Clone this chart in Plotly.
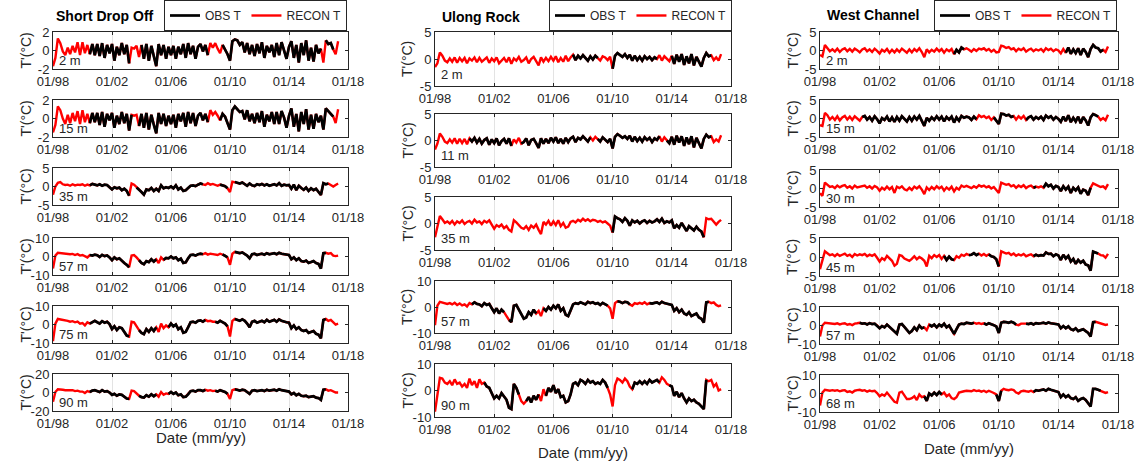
import pandas as pd
import plotly.graph_objects as go

# ---------------- data (bi-monthly samples, Jan 1998 .. May 2017) ----------------
DATES = pd.date_range("1998-01-01", periods=117, freq="2MS")
YEARS = [1998 + k / 6 for k in range(117)]

XTICK_VALS = ["1998-01-01", "2002-01-01", "2006-01-01", "2010-01-01", "2014-01-01", "2018-01-01"]
XTICK_LABELS = ["01/98", "01/02", "01/06", "01/10", "01/14", "01/18"]

# ---- Short Drop Off ----
SDO_2M = [-1.7, -0.8, 1.3, 0.8, -0.1, -0.5,
          0.3, -0.4, 0.5, -0.2, 0.9, -0.5,
          0.9, -0.3, 0.6, -0.4, 0.7, -0.5,
          0.7, -0.6, 0.8, -0.8, 0.6, -0.3,
          0.7, -1.1, 0.4, -0.5, 0.8, -0.4,
          0.6, -1.4, 0.3, 0.2, 0.5, -0.7,
          0.6, -0.9, 0.7, -1.1, 0.5, -0.6,
          -1.7, 0.7, -0.5, 0.6, -0.9, 0.4,
          -0.5, 0.5, -0.9, 0.4, -0.4, 0.7,
          -0.8, 0.8, -0.4, 0.5, -0.9, 0.4,
          0.7, -0.1, 0.6, -0.5, 0.8, 0.3,
          0.8, 0.2, -0.3, 0.6, 0.1, -0.4,
          -1.1, 1.0, 1.2, 1.1, 0.6, 0.9,
          -0.2, 0.8, -0.4, 0.6, -0.6, 0.7,
          -0.3, 0.9, -0.8, 0.5, -0.2, 0.6,
          -0.7, 0.8, -0.5, 0.9, 0.0, -0.9,
          0.4, 1.0, -0.8, 0.6, -1.3, 0.8,
          -0.5, 1.1, -1.1, 0.3, -1.2, 0.6,
          -0.3, 0.2, -1.3, 1.1, 0.7, 0.8,
          0.1, -0.4, 1.0]
SDO_2M_OBS = [(2000.4, 2003.3), (2003.9, 2008.5), (2009.5, 2016.2), (2016.5, 2017.0)]

SDO_15M = [-1.5, -0.7, 1.3, 0.9, 0.0, -0.6,
           0.4, -0.5, 0.6, -0.3, 0.8, -0.6,
           0.9, -0.4, 0.5, -0.5, 0.6, -0.4,
           0.6, -0.7, 0.7, -0.9, 0.5, -0.2,
           0.6, -1.0, 0.3, -0.6, 0.7, -0.5,
           0.5, -1.3, 0.4, 0.3, 0.4, -0.8,
           0.5, -1.0, 0.6, -1.2, 0.4, -0.7,
           -1.6, 0.6, -0.6, 0.5, -0.8, 0.3,
           -0.6, 0.4, -1.0, 0.5, -0.3, 0.6,
           -0.9, 0.7, -0.5, 0.6, -0.8, 0.3,
           0.6, -0.2, 0.5, -0.4, 0.9, 0.4,
           0.7, 0.3, -0.2, 0.5, 0.2, -0.5,
           -1.2, 0.9, 1.3, 1.0, 0.7, 0.8,
           -0.1, 0.9, -0.3, 0.5, -0.5, 0.6,
           -0.4, 0.8, -0.9, 0.4, -0.3, 0.7,
           -0.6, 0.7, -0.6, 0.8, 0.1, -1.0,
           0.3, 1.1, -0.9, 0.5, -1.4, 0.7,
           -0.6, 1.0, -1.2, 0.4, -1.1, 0.5,
           -0.4, 0.3, -1.2, 1.1, 0.8, 0.6,
           0.2, -0.5, 1.0]
SDO_15M_OBS = [(2000.4, 2003.4), (2003.8, 2008.6), (2009.2, 2016.4), (2016.5, 2017.0)]

SDO_35M = [-2.2, 0.0, 1.0, 1.2, 0.6, 0.4,
           0.5, 0.2, 0.6, 0.3, 0.5, 0.4,
           0.6, 0.2, 0.5, 0.3, 0.7, 0.5,
           0.3, 0.6, 0.2, 0.5, 0.4, -0.2,
           -0.8, -0.2, -0.5, -0.3, -1.0, -0.6,
           -1.2, -2.5, 0.8, 0.5, -0.3, -0.8,
           -1.5, -2.2, -0.8, -1.0, -0.4, -1.2,
           -0.6, -1.2, 0.3, -0.5, -0.2, -0.4,
           0.0, -0.5, 0.3, -0.8, -0.3, -1.2,
           -1.0, -0.4, 0.2, 0.3, 0.1, 0.5,
           0.8, 0.6, 0.4, 0.9, 0.5, 0.7,
           0.4, 0.2, 0.5, 0.3, 0.1, -0.5,
           -1.5, 1.3, 1.2, 1.0, 0.8, 1.1,
           0.6, 0.2, 0.8, 0.3, 0.1, 0.6,
           0.4, 0.7, 0.3, 0.6, 0.2, 0.5,
           0.6, 0.3, 0.9, 0.2, 0.5, 0.3,
           0.4, -0.6, 0.5, -1.0, 0.2, -0.4,
           -0.9, -0.3, -1.2, -0.5, -1.0, -0.6,
           -1.4, -2.3, 0.9, 0.6, 0.8, 0.3,
           0.0, 0.4, 0.8]
SDO_35M_OBS = [(2000.4, 2003.3), (2003.6, 2008.3), (2009.2, 2009.9), (2010.2, 2016.8)]

SDO_57M = [-6.5, 0.5, 2.0, 1.8, 1.7, 1.5,
           1.6, 1.2, 1.4, 0.8, 1.3, 0.5,
           0.8, 0.3, -0.5, 0.8, 0.5, 1.0,
           0.7, -0.3, 0.9, 0.2, 0.6, -0.5,
           -2.0, -0.5, -1.5, -1.0, -2.5, -3.5,
           -4.5, -5.8, 0.5, 0.8, -0.5, -2.0,
           -3.5, -4.2, -2.5, -3.0, -1.5, -2.8,
           -1.5, -3.5, -0.5, -1.8, -0.8, -1.0,
           0.0, -1.0, -0.5, -2.0, -1.2, -3.5,
           -3.2, -1.0, 0.8, 1.0, 0.5, 1.2,
           1.5, 1.2, 1.8, 1.0, 1.5, 1.3,
           1.0, 0.8, 1.5, 1.2, 0.5, -0.5,
           -4.5, 1.5, 2.5, 2.0, 1.8, 2.2,
           1.5, 0.5, -1.0, 1.2, 1.5, 0.8,
           1.2, 1.5, 1.0, 1.8, 1.2, 1.5,
           1.8, 1.2, 2.0, 1.5, 1.3, 1.0,
           0.8, -1.5, -0.5, -2.0, -1.0, -2.5,
           -2.8, -2.2, -3.5, -3.0, -2.5, -3.5,
           -4.0, -6.5, 1.8, 2.0, 1.5, 1.8,
           0.5, 0.2, 0.5]
SDO_57M_OBS = [(2000.4, 2003.3), (2003.7, 2005.0), (2005.5, 2008.3), (2009.5, 2009.9), (2010.3, 2016.5)]

SDO_75M = [-9.0, 0.5, 3.0, 2.8, 2.5, 2.2,
           2.0, 1.5, 1.8, 1.2, 1.6, 0.5,
           0.8, -0.5, 1.2, 0.5, 1.5, 2.0,
           1.2, 0.5, 1.8, 1.0, 1.5, 0.2,
           -2.5, -1.0, -3.0, -1.5, -2.0, -4.0,
           -6.0, -6.5, 1.5, 1.2, -1.0, -3.0,
           -4.5, -5.2, -2.5, -4.0, -2.0, -3.5,
           -1.5, -4.0, 0.5, -2.0, -0.5, -1.5,
           0.5, -1.0, 0.0, -2.5, -1.5, -4.5,
           -4.0, -1.5, 1.2, 1.5, 1.0, 2.0,
           2.2, 1.5, 2.5, 1.8, 2.0, 1.5,
           1.5, 1.0, 2.0, 1.2, 0.5, -1.0,
           -6.5, 2.0, 3.0, 2.5, 2.0, 2.8,
           2.0, 0.5, -1.5, 1.5, 2.0, 1.0,
           1.5, 2.0, 1.2, 2.5, 1.5, 2.0,
           2.5, 1.5, 2.8, 2.0, 1.5, 1.2,
           1.0, -2.0, -0.5, -2.5, -1.5, -3.0,
           -3.5, -3.0, -4.5, -4.0, -3.5, -5.0,
           -5.5, -7.5, 2.5, 3.0, 2.0, 2.5,
           1.0, 0.0, 0.5]
SDO_75M_OBS = [(2000.5, 2003.3), (2003.7, 2005.1), (2005.7, 2008.4), (2009.0, 2009.9), (2010.2, 2016.5)]

SDO_90M = [-10.0, 0.5, 3.5, 3.5, 3.0, 2.5,
           2.5, 2.0, 2.5, 1.5, 2.0, 1.0,
           1.0, -0.5, 1.5, 0.5, 2.0, 2.5,
           1.5, 0.5, 2.5, 1.0, 1.5, 0.0,
           -2.5, -1.5, -3.5, -2.0, -2.5, -4.5,
           -6.5, -7.0, 2.0, 1.5, -1.5, -3.5,
           -5.0, -5.5, -3.0, -4.5, -2.0, -4.0,
           -2.0, -4.5, 0.5, -2.5, -1.0, -1.5,
           0.5, -1.5, 0.0, -3.0, -2.0, -5.0,
           -4.5, -2.0, 1.5, 2.0, 1.0, 2.5,
           2.5, 1.5, 3.0, 2.0, 2.5, 1.5,
           2.0, 1.0, 2.5, 1.5, 0.5, -1.5,
           -7.0, 2.5, 3.5, 3.0, 2.0, 3.0,
           2.5, 0.5, -1.5, 2.0, 2.5, 1.5,
           2.0, 2.5, 1.5, 3.0, 2.0, 2.5,
           3.0, 2.0, 3.5, 2.5, 2.0, 1.5,
           1.0, -2.0, -0.5, -3.0, -1.5, -3.5,
           -4.0, -3.5, -5.0, -4.5, -4.0, -5.5,
           -6.0, -8.0, 3.0, 3.5, 2.0, 2.5,
           1.0, 0.0, 0.0]
SDO_90M_OBS = [(2000.5, 2003.3), (2003.7, 2005.1), (2005.7, 2008.4), (2009.0, 2009.9), (2010.2, 2016.5)]

# ---- Ulong Rock ----
UR_2M = [-1.5, -0.8, 1.2, 0.6, -0.3, -0.6,
         0.1, -0.5, 0.3, -0.7, 0.2, -0.4,
         0.2, -0.8, 0.1, -0.3, 0.3, -0.6,
         0.2, -0.5, -0.1, 0.3, -0.7, 0.1,
         -0.4, 0.3, -0.8, -0.2, 0.2, -0.6,
         0.3, -0.9, 0.1, -0.3, 0.4, -0.5,
         -0.2, 0.3, -0.8, 0.0, 0.4, -0.4,
         -1.2, 0.3, -0.5, 0.2, -0.4, 0.4,
         -0.3, 0.5, -0.6, 0.2, -0.5, 0.6,
         -0.4, 0.3, 0.8, -0.2, 0.6, 0.1,
         0.7, 0.2, -0.3, 0.5, -0.1, 0.6,
         0.2, -0.3, 0.5, 0.3, -0.2, 0.4,
         -1.8, 0.6, 1.1, 0.8, 0.4, 0.9,
         0.2, 0.8, -0.3, 0.6, -0.2, 0.4,
         -0.3, 0.5, 0.0, 0.4, -0.2, 0.3,
         0.0, 0.7, -0.3, 0.5, 0.1, -0.4,
         0.6, -0.9, 0.8, -0.5, 0.9, -1.1,
         0.5, -0.8, 0.9, -1.2, 0.4, -0.6,
         -1.4, 0.2, 1.1, 0.5, 0.7, -0.2,
         0.3, -0.3, 0.9]
UR_2M_OBS = [(2007.3, 2009.0), (2009.9, 2013.0), (2013.9, 2016.8)]

UR_11M = [-1.7, -0.6, 1.3, 0.7, -0.2, -0.5,
          0.2, -0.4, 0.4, -0.6, 0.3, -0.5,
          0.3, -0.7, 0.4, -0.2, 0.5, -0.4,
          0.3, -0.6, 0.1, 0.4, -0.8, 0.2,
          -0.5, 0.4, -0.9, -0.1, 0.3, -0.6,
          0.4, -1.0, 0.2, -0.4, 0.5, -0.6,
          -0.3, 0.4, -0.9, 0.1, 0.3, -0.5,
          -1.4, 0.4, -0.6, 0.3, -0.5, 0.5,
          -0.2, 0.6, -0.5, 0.3, -0.6, 0.5,
          -0.3, 0.4, 0.7, -0.3, 0.5, 0.2,
          0.8, 0.3, -0.2, 0.6, 0.0, 0.7,
          0.3, -0.2, 0.6, 0.2, -0.3, 0.3,
          -1.5, 0.7, 1.2, 0.9, 0.5, 0.8,
          0.3, 0.9, -0.2, 0.7, -0.1, 0.5,
          -0.2, 0.6, 0.1, 0.5, -0.3, 0.4,
          0.1, 0.8, -0.2, 0.6, 0.0, -0.5,
          0.7, -0.8, 0.9, -0.4, 0.8, -1.0,
          0.6, -0.7, 0.8, -1.3, 0.5, -0.5,
          -1.5, 0.3, 1.1, 0.6, 0.8, -0.3,
          0.2, -0.2, 1.0]
UR_11M_OBS = [(2000.2, 2003.3), (2003.7, 2008.5), (2009.0, 2013.2), (2013.6, 2016.8)]

UR_35M = [-2.6, -0.5, 1.4, 0.8, 0.1, 0.4,
          0.0, 0.5, -0.2, 0.4, 0.1, 0.6,
          -0.1, 0.3, 0.5, 0.0, 0.7, 0.2,
          0.4, -0.1, 0.5, 0.2, 0.6, -0.2,
          -1.0, -0.3, -0.6, -0.2, -0.9, -0.5,
          -1.2, -1.5, 0.6, 0.2, -0.3, -0.8,
          -1.0, -0.5, -1.2, -0.4, -0.8, -0.2,
          -1.2, -2.0, 0.3, -0.2, 0.5, -0.4,
          0.4, -0.3, 0.6, -0.5, 0.1, -0.8,
          -0.6, 0.3, 0.5, 0.2, 0.7, 0.4,
          0.9, 0.5, 0.8, 0.4, 0.7, 0.6,
          0.3, 0.5, 0.2, 0.4, 0.0, -0.4,
          -1.7, 1.3, 1.0, 0.8, 0.3, 1.0,
          0.5, -0.4, 0.6, 0.2, 0.5, 0.0,
          0.4, 0.6, 0.1, 0.5, 0.2, 0.4,
          0.8, 0.3, 0.9, 0.1, 0.4, 0.2,
          0.6, -0.9, -0.3, -0.8, 0.1, -0.6,
          -1.4, -0.5, -1.0, -1.3, -0.6, -1.2,
          -1.5, -2.6, 1.0, 0.8, 0.9, 0.4,
          -0.2, 0.3, 0.7]
UR_35M_OBS = [(2010.0, 2016.3)]

UR_57M = [-7.0, 0.5, 2.0, 1.8, 1.5, 1.2,
          1.5, 1.0, 1.6, 0.8, 1.4, 0.6,
          1.0, 0.2, 1.5, 1.0, 1.8, 1.2,
          1.0, 0.3, 1.5, 0.8, 1.2, -0.5,
          -2.0, -0.5, -2.5, -1.0, -2.0, -3.5,
          -5.0, -5.8, 0.5, 0.8, -1.0, -3.0,
          -4.5, -4.0, -2.0, -3.0, -1.0, -2.5,
          -1.5, -3.5, -0.5, -1.5, 0.0, -1.0,
          0.5, -0.5, 1.0, -1.5, -0.5, -3.0,
          -3.5, -1.5, 1.0, 1.5, 1.2, 1.8,
          1.5, 1.0, 2.0, 1.5, 1.8, 1.2,
          1.5, 0.8, 1.6, 1.0, 0.5, -0.5,
          -4.5, 1.5, 2.2, 2.0, 1.5, 2.0,
          1.8, 1.0, 0.5, 1.5, 1.2, 1.6,
          1.2, 1.8, 1.0, 1.5, 1.3, 1.6,
          1.8, 1.2, 2.0, 1.5, 1.2, 1.0,
          0.8, -1.5, -0.5, -2.0, -1.0, -2.5,
          -3.0, -2.0, -3.5, -3.0, -2.5, -4.0,
          -4.5, -6.0, 1.8, 2.0, 1.5, 1.8,
          0.8, 0.3, 0.6]
UR_57M_OBS = [(2000.4, 2002.8), (2003.0, 2004.9), (2005.3, 2009.8), (2010.2, 2011.3), (2012.5, 2016.6)]

UR_90M = [-8.0, -1.0, 4.8, 4.5, 3.0, 2.5,
          3.5, 2.0, 4.2, 2.5, 3.0, 1.5,
          2.5, 1.0, 4.5, 2.0, 3.5, 1.0,
          4.2, 2.5, 3.0, 1.5, 1.0, -1.0,
          -3.0, -2.0, -3.0, -1.0, -2.5, -3.5,
          -6.5, -7.0, 2.5, 1.0, -1.5, -4.0,
          -5.0, -4.0, -2.5, -4.5, -2.0, -3.5,
          -1.5, -4.0, 0.5, -2.0, 1.0, -0.5,
          2.0, -1.0, 0.5, -2.5, -2.0, -4.5,
          -4.0, -1.5, 2.5, 3.0, 2.0, 4.0,
          3.5, 2.5, 4.0, 3.0, 3.5, 2.5,
          3.0, 2.5, 4.0, 3.0, 1.0, -1.5,
          -6.0, 2.0, 4.5, 4.0, 3.0, 4.5,
          3.5, 1.5, 0.5, 3.0, 2.5, 3.5,
          2.5, 3.5, 2.5, 4.0, 3.0, 3.5,
          4.0, 3.0, 5.0, 4.0, 2.5, 2.0,
          1.5, -2.0, -0.5, -2.5, -1.0, -3.0,
          -4.5, -3.0, -4.0, -3.5, -4.5, -5.0,
          -6.0, -7.0, 4.0, 3.5, 4.0, 1.5,
          2.5, 0.0, 0.5]
UR_90M_OBS = [(2001.2, 2003.7), (2004.1, 2005.1), (2005.5, 2009.8), (2011.3, 2013.3), (2013.7, 2016.4)]

# ---- West Channel ----
WC_2M = [-1.2, -1.6, 1.5, 0.8, -0.2, 0.3,
         -0.3, 0.5, -0.4, 0.3, 0.6, -0.2,
         0.4, -0.3, 0.5, 0.1, -0.5, 0.3,
         0.6, -0.2, 0.3, -0.4, 0.5, -0.1,
         -0.8, 0.2, -0.3, 0.4, -0.6, 0.2,
         -0.5, 0.3, -0.4, 0.5, 0.0, -0.6,
         0.3, -0.5, 0.4, -0.2, 0.6, -0.4,
         -1.8, 0.3, -0.5, 0.2, -0.3, 0.5,
         -0.2, 0.4, -0.6, 0.3, -0.2, 0.4,
         -1.0, 0.2, -0.5, 0.8, 0.3, 0.6,
         0.2, -0.3, 0.4, -0.1, 0.5, 0.3,
         0.6, 0.0, 0.4, -0.3, 0.2, -0.5,
         -0.4, 1.3, 1.1, 0.7, 0.9, 0.3,
         0.6, -0.2, 0.5, 0.1, 0.6, -0.3,
         0.2, 0.5, -0.2, 0.3, 0.0, 0.4,
         -0.3, 0.6, 0.1, 0.5, -0.2, 0.3,
         0.0, -0.8, 0.4, -0.6, 0.8, -0.9,
         0.3, -0.7, 0.6, -1.2, 0.5, -0.4,
         -1.8, 0.4, 1.5, 0.8, 0.6, -0.3,
         0.2, -0.4, 1.1]
WC_2M_OBS = [(2007.0, 2007.7), (2014.4, 2017.0)]

WC_15M = [-1.8, -2.0, 1.5, 0.9, -0.3, 0.4,
          -0.4, 0.6, -0.5, 0.3, 0.7, -0.3,
          0.5, -0.4, 0.6, 0.0, -0.6, 0.4,
          0.7, -0.3, 0.4, -0.6, 0.6, -0.2,
          -1.3, 0.1, -0.4, 0.5, -0.8, 0.3,
          -0.9, 0.4, -0.6, 0.6, -0.1, -0.8,
          0.4, -0.6, 0.5, -0.3, 0.7, -0.5,
          -2.0, 0.2, -0.6, 0.3, -0.4, 0.6,
          -0.3, 0.5, -0.8, 0.4, -0.3, 0.5,
          -1.1, 0.3, -0.6, 0.7, 0.2, 0.5,
          0.3, -0.4, 0.5, -0.2, 0.9, 0.4,
          0.7, 0.1, 0.5, -0.4, 0.3, -0.6,
          -1.5, 1.3, 1.2, 0.8, 1.0, 0.4,
          0.7, -0.3, 0.6, 0.0, 0.7, -0.4,
          0.3, 0.6, -0.3, 0.4, -0.1, 0.5,
          -0.4, 0.8, 0.2, 0.6, -0.3, 0.4,
          -0.1, -0.9, 0.5, -0.7, 0.9, -1.0,
          0.2, -0.8, 0.5, -1.3, 0.4, -0.5,
          -1.9, 0.3, 1.2, 0.9, 0.5, -0.4,
          0.1, -0.5, 1.0]
WC_15M_OBS = [(2000.7, 2008.5), (2009.6, 2011.0), (2011.8, 2016.7)]

WC_30M = [-1.3, -2.0, 1.6, 1.0, 0.4, 0.6,
          0.1, 0.8, 0.3, 0.7, 0.9, 0.2,
          0.6, 0.0, 0.8, 0.3, 0.5, 0.7,
          0.8, 0.2, 0.6, 0.0, 0.7, 0.3,
          -0.6, 0.2, -0.3, 0.5, -0.2, 0.4,
          -1.2, 0.5, 0.1, 0.6, -0.2, -0.5,
          0.2, -0.4, 0.5, 0.0, 0.6, -0.3,
          -1.5, 0.3, -0.4, 0.4, -0.2, 0.6,
          0.0, 0.5, -0.6, 0.3, -0.3, 0.5,
          -0.8, 0.2, -0.3, 0.8, 0.4, 0.7,
          0.5, 0.1, 0.6, 0.2, 0.9, 0.5,
          0.8, 0.3, 0.6, 0.0, 0.4, -0.5,
          -1.2, 1.6, 1.4, 1.0, 1.2, 0.6,
          0.9, 0.2, 0.8, 0.4, 0.9, 0.1,
          0.6, 0.8, 0.2, 0.5, 0.3, 0.6,
          0.2, 1.3, 0.6, 1.0, 0.0, 0.7,
          0.4, -0.7, 0.6, -0.3, 0.5, -1.2,
          0.2, -0.5, 0.3, -1.4, -0.3, -0.6,
          -1.8, 0.2, 1.4, 1.0, 0.8, 0.4,
          0.6, 0.0, 1.2]
WC_30M_OBS = [(2012.2, 2012.5), (2013.0, 2016.3)]

WC_45M = [-3.2, -1.0, 1.5, 1.0, 0.5, 0.7,
          0.2, 0.8, 0.3, 0.6, 0.9, 0.3,
          0.6, 0.0, 0.8, 0.4, 0.7, 0.5,
          0.8, 0.2, 0.6, 0.3, 0.7, -0.2,
          -1.2, -0.3, -0.8, 0.3, -0.5, -1.0,
          -2.3, -1.8, 0.5, 0.3, -0.4, -0.8,
          -1.0, -0.5, 0.2, -0.6, 0.0, -0.4,
          -1.0, -2.5, 0.3, -0.3, 0.5, 0.0,
          0.5, -0.5, 0.3, -0.8, 0.1, -0.6,
          -0.8, 0.2, -0.2, 0.6, 0.3, 0.8,
          0.5, 0.6, 1.0, 0.5, 0.9, 0.4,
          0.8, 0.3, 0.7, 0.2, 0.0, -0.6,
          -2.5, 1.5, 1.3, 0.9, 1.1, 0.5,
          0.9, 0.3, 0.7, 0.4, 0.8, 0.2,
          0.5, 0.7, 0.2, 0.6, 0.3, 0.5,
          0.4, 1.2, 0.8, 0.9, 0.2, 0.7,
          0.4, -0.8, 0.6, -0.4, 0.3, -1.2,
          -0.5, -1.8, -0.8, -1.5, -1.0, -2.0,
          -2.2, -3.6, 1.4, 1.2, 0.9, 0.5,
          0.4, -0.2, 0.8]
WC_45M_OBS = [(2006.3, 2007.1), (2007.9, 2008.7), (2009.2, 2010.1), (2012.2, 2016.7)]

WC_57M = [-6.0, 0.0, 1.5, 1.3, 1.0, 1.2,
          0.8, 1.2, 0.6, 1.0, 1.2, 0.4,
          0.8, 0.2, 1.0, 1.2, 1.5, 1.0,
          1.2, 0.6, 1.3, 0.8, 1.0, 0.0,
          -1.5, -0.3, -1.0, 0.5, -0.8, -2.0,
          -3.5, -4.5, 0.5, 0.8, -0.8, -2.5,
          -4.0, -3.0, -1.0, -2.5, 0.0, -1.5,
          -1.0, -2.5, 0.5, -0.5, 0.5, -1.0,
          0.5, -0.5, 1.0, -1.0, 0.0, -2.5,
          -4.5, -2.0, 0.5, 1.0, 0.8, 1.5,
          1.2, 1.0, 1.5, 1.0, 1.3, 0.8,
          1.2, 0.5, 1.2, 0.8, 0.2, -0.5,
          -4.0, 1.5, 2.0, 1.8, 1.5, 2.0,
          1.5, 0.5, 0.2, 1.0, 1.2, 1.0,
          0.8, 1.2, 0.6, 1.3, 1.0, 1.2,
          1.5, 1.0, 1.6, 1.2, 1.0, 0.8,
          0.6, -1.5, -0.3, -1.5, -0.5, -2.0,
          -2.5, -1.5, -3.0, -2.5, -2.0, -3.0,
          -4.0, -6.0, 1.8, 2.0, 1.5, 1.2,
          0.8, 0.3, 0.6]
WC_57M_OBS = [(2000.55, 2005.0), (2005.3, 2008.4), (2009.0, 2011.3), (2011.8, 2016.6)]

WC_68M = [-6.5, 0.5, 2.0, 1.8, 1.5, 1.8,
          1.5, 1.8, 1.2, 1.6, 1.8, 0.8,
          1.2, 0.5, 1.5, 1.8, 2.0, 1.5,
          1.8, 1.0, 1.6, 1.2, 1.5, 0.2,
          -1.5, -0.5, -1.2, 0.5, -1.0, -2.5,
          -4.5, -5.0, 0.5, 1.0, -1.0, -3.0,
          -3.0, -2.5, -1.5, -3.5, -0.5, -2.0,
          -1.5, -4.0, 0.0, -1.0, 0.5, -0.8,
          0.8, -0.5, 0.5, -1.5, -0.5, -2.5,
          -3.0, -2.0, 0.5, 1.0, 1.2, 1.5,
          1.5, 1.2, 1.8, 1.3, 1.6, 1.0,
          1.5, 0.8, 1.5, 1.0, 0.3, -0.5,
          -4.0, 1.5, 2.5, 2.0, 1.8, 2.2,
          1.8, 0.5, 0.0, 1.2, 1.5, 1.2,
          1.0, 1.5, 0.8, 1.8, 1.5, 2.0,
          2.2, 1.5, 2.5, 2.0, 1.5, 1.2,
          0.8, -2.0, -0.5, -2.0, -1.0, -2.5,
          -3.0, -2.0, -4.0, -3.0, -2.5, -3.5,
          -5.0, -7.0, 2.5, 2.5, 2.0, 1.5,
          0.8, 0.3, 0.8]
WC_68M_OBS = [(2004.9, 2006.2), (2009.8, 2010.3), (2012.3, 2016.9)]

# ---------------- layout description (pixel geometry) ----------------
W, H = 1140, 463
FONT = "Liberation Sans, Arial, Helvetica, sans-serif"
TXT = "#262626"

COLUMNS = [
    dict(title="Short Drop Off", title_x=54, title_y=16, x0=53, x1=348, leg_x1=347,
         legend="legend", date_y=437,
         panels=[("2 m", SDO_2M, SDO_2M_OBS, 2, 32, 69),
                 ("15 m", SDO_15M, SDO_15M_OBS, 2, 100, 137),
                 ("35 m", SDO_35M, SDO_35M_OBS, 5, 168, 205),
                 ("57 m", SDO_57M, SDO_57M_OBS, 10, 238, 275),
                 ("75 m", SDO_75M, SDO_75M_OBS, 10, 306, 343),
                 ("90 m", SDO_90M, SDO_90M_OBS, 20, 374, 411)]),
    dict(title="Ulong Rock", title_x=440, title_y=17, x0=435, x1=731, leg_x1=732,
         legend="legend2", date_y=452,
         panels=[("2 m", UR_2M, UR_2M_OBS, 5, 32, 86),
                 ("11 m", UR_11M, UR_11M_OBS, 5, 114, 167),
                 ("35 m", UR_35M, UR_35M_OBS, 5, 197, 250),
                 ("57 m", UR_57M, UR_57M_OBS, 10, 281, 333),
                 ("90 m", UR_90M, UR_90M_OBS, 10, 364, 417)]),
    dict(title="West Channel", title_x=825, title_y=15, x0=820, x1=1118, leg_x1=1117,
         legend="legend3", date_y=448,
         panels=[("2 m", WC_2M, WC_2M_OBS, 5, 32, 69),
                 ("15 m", WC_15M, WC_15M_OBS, 5, 100, 137),
                 ("30 m", WC_30M, WC_30M_OBS, 5, 170, 207),
                 ("45 m", WC_45M, WC_45M_OBS, 5, 238, 276),
                 ("57 m", WC_57M, WC_57M_OBS, 10, 307, 344),
                 ("68 m", WC_68M, WC_68M_OBS, 10, 375, 412)]),
]


def fx(p):
    return p / W


def fy(p):
    return 1 - p / H


fig = go.Figure()
layout = {}
annotations = []
n = 0
for col in COLUMNS:
    for pi, (label, recon, periods, lim, top, bot) in enumerate(col["panels"]):
        n += 1
        xa = "x" if n == 1 else f"x{n}"
        ya = "y" if n == 1 else f"y{n}"
        xs = DATES[:len(recon)]
        obs = [v if any(a <= t <= b for a, b in periods) else None
               for v, t in zip(recon, YEARS)]
        show = pi == 0
        fig.add_trace(go.Scatter(x=xs, y=recon, mode="lines", name="RECON T",
                                 line=dict(color="#ff0000", width=2.4),
                                 legend=col["legend"], showlegend=show, legendrank=2,
                                 xaxis=xa, yaxis=ya))
        fig.add_trace(go.Scatter(x=xs, y=obs, mode="lines", name="OBS T",
                                 line=dict(color="#000000", width=2.7),
                                 connectgaps=False,
                                 legend=col["legend"], showlegend=show, legendrank=1,
                                 xaxis=xa, yaxis=ya))
        xkey = "xaxis" if n == 1 else f"xaxis{n}"
        ykey = "yaxis" if n == 1 else f"yaxis{n}"
        layout[xkey] = dict(domain=[fx(col["x0"]), fx(col["x1"])], anchor=ya, type="date",
                            range=["1998-01-01", "2018-01-01"], automargin=False,
                            tickmode="array", tickvals=XTICK_VALS, ticktext=XTICK_LABELS,
                            showgrid=True, gridcolor="#e3e3e3", gridwidth=1,
                            showline=True, linecolor=TXT, linewidth=1, mirror="ticks",
                            ticks="inside", ticklen=3, tickcolor=TXT,
                            tickfont=dict(size=13, color=TXT, family=FONT),
                            zeroline=False, fixedrange=True)
        layout[ykey] = dict(domain=[fy(bot), fy(top)], anchor=xa, automargin=False,
                            range=[-lim, lim], tickmode="array",
                            tickvals=[-lim, 0, lim], ticktext=[f"-{lim}", "0", f"{lim}"],
                            showgrid=False, zeroline=False,
                            showline=True, linecolor=TXT, linewidth=1, mirror="ticks",
                            ticks="inside", ticklen=3, tickcolor=TXT,
                            tickfont=dict(size=13, color=TXT, family=FONT), fixedrange=True)
        annotations.append(dict(text=label, xref=f"{xa} domain", yref=f"{ya} domain",
                                x=0.012, y=0.22, xanchor="left", yanchor="middle",
                                showarrow=False, font=dict(size=13, color=TXT, family=FONT)))
        annotations.append(dict(text="T'(°C)", xref="paper", yref="paper",
                                x=fx(col["x0"] - 28), y=fy((top + bot) / 2),
                                xanchor="center", yanchor="middle", textangle=-90,
                                showarrow=False, font=dict(size=14, color=TXT, family=FONT)))
    annotations.append(dict(text=f"<b>{col['title']}</b>", xref="paper", yref="paper",
                            x=fx(col["title_x"]), y=fy(col["title_y"]),
                            xanchor="left", yanchor="middle", showarrow=False,
                            font=dict(size=14, color="#000000", family=FONT)))
    annotations.append(dict(text="Date (mm/yy)", xref="paper", yref="paper",
                            x=fx((col["x0"] + col["x1"]) / 2), y=fy(col["date_y"]),
                            xanchor="center", yanchor="middle", showarrow=False,
                            font=dict(size=15, color=TXT, family=FONT)))
    layout[col["legend"]] = dict(orientation="h", x=fx(col["leg_x1"]), xanchor="right",
                                 y=1, yanchor="top", bgcolor="white",
                                 bordercolor=TXT, borderwidth=1, traceorder="normal",
                                 itemwidth=30, tracegroupgap=0,
                                 font=dict(size=12, color=TXT, family=FONT))

fig.update_layout(template="none")
fig.update_layout(**layout)
fig.update_layout(width=W, height=H, margin=dict(l=0, r=0, t=0, b=0, pad=0),
                  paper_bgcolor="white", plot_bgcolor="white",
                  font=dict(family=FONT, color=TXT), annotations=annotations,
                  hovermode=False)
fig.write_html("out.html", config={"displayModeBar": False},
               post_script="document.body.style.margin='0';document.body.style.padding='0';")
